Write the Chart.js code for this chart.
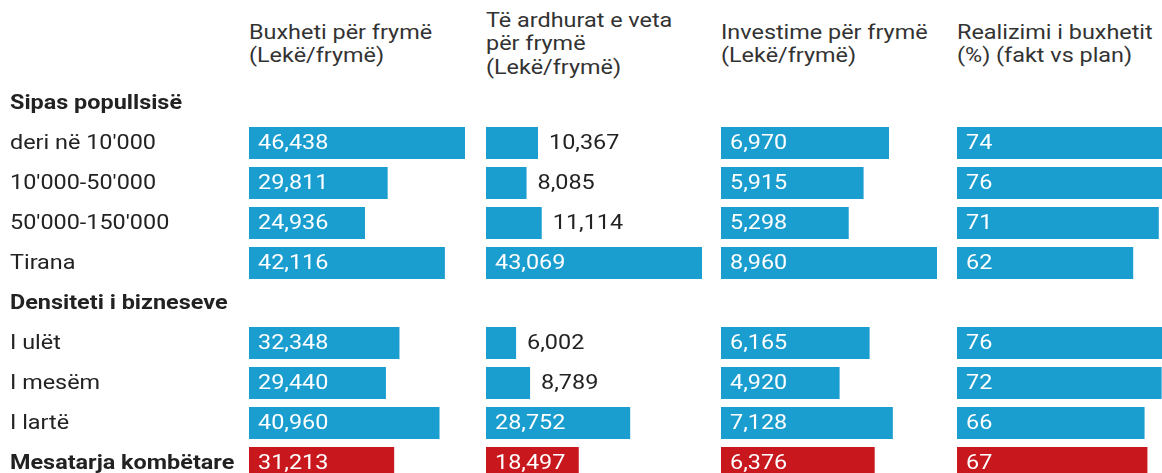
<!DOCTYPE html>
<html>
<head>
<meta charset="utf-8">
<script src="https://cdn.jsdelivr.net/npm/chart.js@4"></script>
<style>
  body { margin: 0; width: 1162px; height: 473px; overflow: hidden; background: #fff; position: relative; font-family: Roboto, sans-serif; }
  .head { position: absolute; top: 0; height: 88px; display: flex; align-items: center; font-size: 20px; line-height: 23.5px; color: #333; white-space: nowrap; transform: scaleX(1.17); transform-origin: left center; }
  canvas { position: absolute; top: 83px; }
</style>
</head>
<body>
<div class="head" style="left:249px">Buxheti për frymë<br>(Lekë/frymë)</div>
<div class="head" style="left:486px">Të ardhurat e veta<br>për frymë<br>(Lekë/frymë)</div>
<div class="head" style="left:721px">Investime për frymë<br>(Lekë/frymë)</div>
<div class="head" style="left:957px">Realizimi i buxhetit<br>(%) (fakt vs plan)</div>

<canvas id="c1" width="465" height="400" style="left:0"></canvas>
<canvas id="c2" width="216" height="400" style="left:486px"></canvas>
<canvas id="c3" width="216" height="400" style="left:721px"></canvas>
<canvas id="c4" width="216" height="400" style="left:957px"></canvas>

<script>
const rows = ['Sipas popullsisë', "deri në 10'000", "10'000-50'000", "50'000-150'000", 'Tirana',
  'Densiteti i bizneseve', 'I ulët', 'I mesëm', 'I lartë', 'Mesatarja kombëtare'];
const boldRows = ['Sipas popullsisë', 'Densiteti i bizneseve', 'Mesatarja kombëtare'];

// null = group header row
const buxheti = [null, 46438, 29811, 24936, 42116, null, 32348, 29440, 40960, 31213];
const teArdhurat = [null, 10367, 8085, 11114, 43069, null, 6002, 8789, 28752, 18497];
const investime = [null, 6970, 5915, 5298, 8960, null, 6165, 4920, 7128, 6376];
const realizimi = [null, 74, 76, 71, 62, null, 76, 72, 66, 67];

const blue = '#1a9dcf';
const red = '#c8171d';
const barColors = rows.map((r) => (r === 'Mesatarja kombëtare' ? red : blue));
const stretch = 1.17; // the source text is drawn a bit wide

const wideText = (c, txt, x, y) => {
  c.save();
  c.translate(x, y);
  c.scale(stretch, 1);
  c.fillText(txt, 0, 0);
  c.restore();
};

const valueLabels = {
  id: 'valueLabels',
  afterDatasetsDraw(chart) {
    const c = chart.ctx;
    const meta = chart.getDatasetMeta(0);
    const data = chart.data.datasets[0].data;
    c.save();
    c.font = '20px Roboto, sans-serif';
    c.textBaseline = 'middle';
    c.textAlign = 'left';
    meta.data.forEach((bar, i) => {
      if (data[i] == null) return;
      const txt = data[i].toLocaleString('en-US');
      const tw = c.measureText(txt).width * stretch;
      const w = bar.x - bar.base;
      if (w > tw + 18) {
        c.fillStyle = '#fff';
        wideText(c, txt, bar.base + 9, bar.y + 1);
      } else {
        c.fillStyle = '#222';
        wideText(c, txt, bar.x + 11, bar.y + 1);
      }
    });
    c.restore();
  }
};

// row names on the left of the first panel
const rowLabels = {
  id: 'rowLabels',
  afterDraw(chart) {
    if (!chart.options.plugins.rowLabels.show) return;
    const c = chart.ctx;
    const y = chart.scales.y;
    c.save();
    c.textBaseline = 'middle';
    c.textAlign = 'left';
    c.fillStyle = '#222';
    rows.forEach((r, i) => {
      c.font = (boldRows.includes(r) ? 'bold ' : '') + '20px Roboto, sans-serif';
      wideText(c, r, 10, y.getPixelForTick(i) + 1);
    });
    c.restore();
  }
};

const makeChart = (id, values, withLabels) => {
  const ctx = document.querySelector(id).getContext('2d');
  return new Chart(ctx, {
    type: 'bar',
    data: {
      labels: rows,
      datasets: [{
        data: values,
        backgroundColor: barColors,
        barPercentage: 0.8,
        categoryPercentage: 1,
      }],
    },
    options: {
      indexAxis: 'y',
      responsive: false,
      animation: false,
      layout: { autoPadding: false, padding: { left: withLabels ? 249 : 0, right: 0, top: 0, bottom: 0 } },
      plugins: { legend: { display: false }, tooltip: { enabled: false }, rowLabels: { show: withLabels } },
      scales: {
        x: { display: false, min: 0, max: Math.max(...values.filter((v) => v != null)) },
        y: { display: false },
      },
    },
    plugins: [valueLabels, rowLabels],
  });
};

makeChart('#c1', buxheti, true);
makeChart('#c2', teArdhurat, false);
makeChart('#c3', investime, false);
makeChart('#c4', realizimi, false);
</script>
</body>
</html>
